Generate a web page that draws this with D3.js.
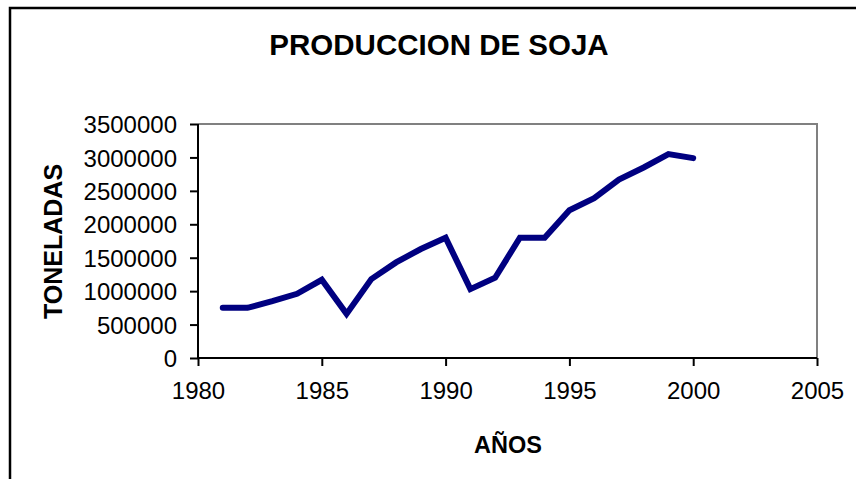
<!DOCTYPE html>
<html>
<head>
<meta charset="utf-8">
<script src="https://cdn.jsdelivr.net/npm/d3@7"></script>
<style>
html,body{margin:0;padding:0;background:#fff;}
svg{display:block;font-family:"Liberation Sans",Arial,sans-serif;}
</style>
</head>
<body>
<svg id="chart" width="856" height="479"></svg>
<script>
const years = [1981,1982,1983,1984,1985,1986,1987,1988,1989,1990,1991,1992,1993,1994,1995,1996,1997,1998,1999,2000];
const toneladas = [750000,750000,850000,960000,1170000,660000,1180000,1430000,1630000,1800000,1030000,1200000,1800000,1800000,2210000,2390000,2670000,2850000,3050000,2990000];
const xTicks = [1980,1985,1990,1995,2000,2005];
const yTicks = [0,500000,1000000,1500000,2000000,2500000,3000000,3500000];
const titleText = "PRODUCCION DE SOJA";
const xLabel = "AÑOS";
const yLabel = "TONELADAS";

const svg = d3.select("#chart");
const W = 856, H = 479;
const plot = {left:198, right:817, top:124, bottom:358};

// outer frame
svg.append("rect").attr("x",10).attr("y",8).attr("width",W+20).attr("height",H+20)
  .attr("fill","#fff").attr("stroke","#000").attr("stroke-width",2.5);

const x = d3.scaleLinear().domain([1980,2005]).range([plot.left,plot.right]);
const y = d3.scaleLinear().domain([0,3500000]).range([plot.bottom,plot.top]);

// plot area border (gray top/right)
svg.append("path")
  .attr("d",`M${plot.left},${plot.top}H${plot.right}V${plot.bottom}`)
  .attr("fill","none").attr("stroke","#808080").attr("stroke-width",2);

// axes
const xAxis = d3.axisBottom(x).tickValues(xTicks).tickFormat(d3.format("d")).tickSize(8).tickPadding(16);
const yAxis = d3.axisLeft(y).tickValues(yTicks).tickFormat(d3.format("d")).tickSize(8).tickPadding(13);

const gx = svg.append("g").attr("transform",`translate(0,${plot.bottom})`).call(xAxis);
const gy = svg.append("g").attr("transform",`translate(${plot.left},0)`).call(yAxis);
[gx,gy].forEach(g=>{
  g.select(".domain").attr("stroke","#000").attr("stroke-width",2);
  g.selectAll(".tick line").attr("stroke","#000").attr("stroke-width",2);
  g.selectAll(".tick text").attr("fill","#000").attr("font-size","24px")
   .attr("font-family","'Liberation Sans',Arial,sans-serif");
});
gx.select(".domain").attr("d",`M${plot.left},0H${plot.right}`);
gy.select(".domain").attr("d",`M0,${plot.bottom}V${plot.top}`);
gy.selectAll(".tick text").attr("dy","0.36em");

// line
const line = d3.line().x((d,i)=>x(years[i])).y(d=>y(d));
svg.append("path").datum(toneladas)
  .attr("d",line).attr("fill","none").attr("stroke","#000080")
  .attr("stroke-width",6).attr("stroke-linejoin","miter").attr("stroke-linecap","round");

// title
svg.append("text").attr("x",439).attr("y",55).attr("text-anchor","middle")
  .attr("font-size","29.5px").attr("font-weight","bold").text(titleText);
// x label
svg.append("text").attr("x",508).attr("y",453).attr("text-anchor","middle")
  .attr("font-size","23.5px").attr("font-weight","bold").text(xLabel);
// y label
svg.append("text").attr("transform",`translate(62,241.5) rotate(-90)`).attr("text-anchor","middle")
  .attr("font-size","25px").attr("font-weight","bold").text(yLabel);
</script>
</body>
</html>
